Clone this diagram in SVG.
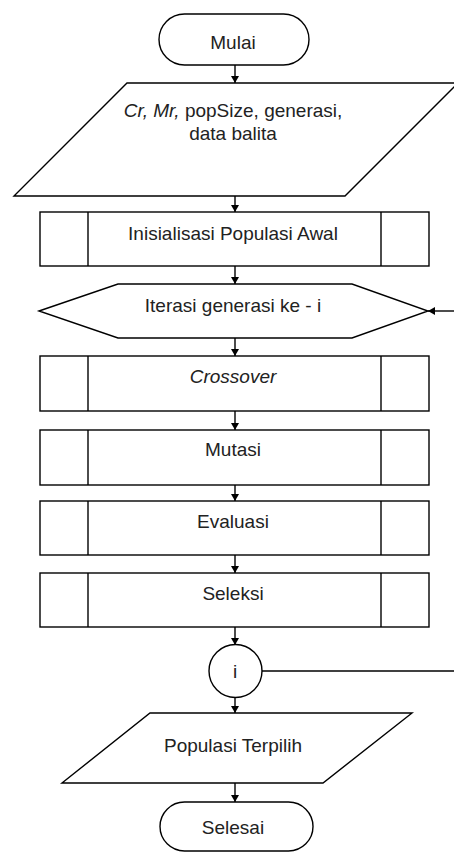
<svg xmlns="http://www.w3.org/2000/svg" width="454" height="852" viewBox="0 0 454 852">
<style>
.s{fill:#fff;stroke:#000;stroke-width:1.4}
.l{fill:none;stroke:#000;stroke-width:1.4}
.t{font-family:"Liberation Sans",Arial,sans-serif;font-size:19px;fill:#222;text-anchor:middle}
.c{stroke:#000;stroke-width:1.4;fill:none}
</style>
<defs>
<marker id="a" markerWidth="8" markerHeight="8" refX="7" refY="4" orient="auto" markerUnits="userSpaceOnUse">
<path d="M0,0 L7,4 L0,8 Z" fill="#000"/>
</marker>
</defs>
<rect width="454" height="852" fill="#fff"/>
<g id="connectors">
<line class="c" x1="235" y1="65" x2="235" y2="83" marker-end="url(#a)"/>
<line class="c" x1="235" y1="196" x2="235" y2="212" marker-end="url(#a)"/>
<line class="c" x1="235" y1="266" x2="235" y2="284" marker-end="url(#a)"/>
<line class="c" x1="235" y1="338" x2="235" y2="356" marker-end="url(#a)"/>
<line class="c" x1="235" y1="411" x2="235" y2="430" marker-end="url(#a)"/>
<line class="c" x1="235" y1="485" x2="235" y2="501" marker-end="url(#a)"/>
<line class="c" x1="235" y1="555" x2="235" y2="573" marker-end="url(#a)"/>
<line class="c" x1="235" y1="627" x2="235" y2="645" marker-end="url(#a)"/>
<line class="c" x1="235" y1="697" x2="235" y2="713" marker-end="url(#a)"/>
<line class="c" x1="235" y1="783" x2="235" y2="802" marker-end="url(#a)"/>
<line class="c" x1="262" y1="671" x2="454" y2="671"/>
<line class="c" x1="454" y1="311" x2="428" y2="311" marker-end="url(#a)"/>
</g>
<g id="mulai">
<rect class="s" x="159" y="14" width="150" height="51" rx="25.5" ry="25.5"/>
<text class="t" x="233" y="49">Mulai</text>
</g>
<g id="input">
<polygon class="s" points="127,83 458,83 345,196 14,196"/>
<text class="t" x="233" y="117"><tspan font-style="italic">Cr, Mr,</tspan> popSize, generasi,</text>
<text class="t" x="233" y="140">data balita</text>
</g>
<g id="inisialisasi">
<rect class="s" x="40" y="212" width="389" height="54"/>
<line class="l" x1="88" y1="212" x2="88" y2="266"/>
<line class="l" x1="381" y1="212" x2="381" y2="266"/>
<text class="t" x="233" y="240">Inisialisasi Populasi Awal</text>
</g>
<g id="iterasi">
<polygon class="s" points="39,311 118,284 352,284 428,311 352,338 118,338"/>
<text class="t" x="233" y="312">Iterasi generasi ke - i</text>
</g>
<g id="crossover">
<rect class="s" x="40" y="356" width="389" height="55"/>
<line class="l" x1="88" y1="356" x2="88" y2="411"/>
<line class="l" x1="381" y1="356" x2="381" y2="411"/>
<text class="t" x="233" y="383" font-style="italic">Crossover</text>
</g>
<g id="mutasi">
<rect class="s" x="40" y="430" width="389" height="55"/>
<line class="l" x1="88" y1="430" x2="88" y2="485"/>
<line class="l" x1="381" y1="430" x2="381" y2="485"/>
<text class="t" x="233" y="456">Mutasi</text>
</g>
<g id="evaluasi">
<rect class="s" x="40" y="501" width="389" height="54"/>
<line class="l" x1="88" y1="501" x2="88" y2="555"/>
<line class="l" x1="381" y1="501" x2="381" y2="555"/>
<text class="t" x="233" y="528">Evaluasi</text>
</g>
<g id="seleksi">
<rect class="s" x="40" y="573" width="389" height="54"/>
<line class="l" x1="88" y1="573" x2="88" y2="627"/>
<line class="l" x1="381" y1="573" x2="381" y2="627"/>
<text class="t" x="233" y="600">Seleksi</text>
</g>
<g id="konektor-i">
<circle class="s" cx="235.5" cy="671" r="26.5"/>
<text class="t" x="235" y="678">i</text>
</g>
<g id="output">
<polygon class="s" points="150,713 412,713 323,783 62,783"/>
<text class="t" x="233" y="752">Populasi Terpilih</text>
</g>
<g id="selesai">
<rect class="s" x="160" y="802" width="153" height="49" rx="24.5" ry="24.5"/>
<text class="t" x="233" y="834">Selesai</text>
</g>
</svg>
